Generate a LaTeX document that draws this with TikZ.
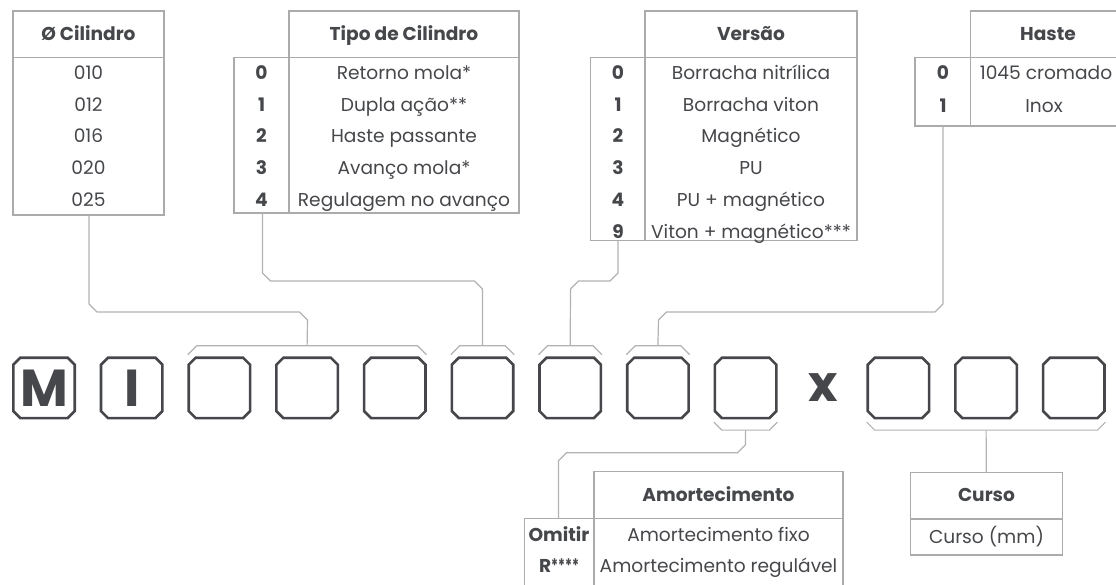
\documentclass[tikz,border=0pt]{standalone}
\usepackage{fontspec}
\usepackage{graphicx}
\setmainfont{Poppins}
\usetikzlibrary{calc}
\definecolor{ink}{HTML}{45474A}
\definecolor{rulegray}{HTML}{ABABAB}
\definecolor{conngray}{HTML}{B2B2B2}
\tikzset{
  tline/.style={draw=rulegray, line width=1.2pt},
  cline/.style={draw=conngray, line width=1.2pt},
  cell/.style={text=ink, font=\fontsize{18.6}{20}\selectfont, inner sep=0pt, anchor=base},
  head/.style={cell, font=\fontsize{18.6}{20}\selectfont\bfseries},
  slot/.style={minimum width=61pt, minimum height=60pt, inner sep=0pt, draw=none, text=ink,
               font=\fontsize{52}{52}\selectfont\bfseries},
  frame/.style={draw=ink, line width=2.6pt, line join=miter},
}
\begin{document}
\begin{tikzpicture}[x=1pt,y=-1pt]
\useasboundingbox (0,0) rectangle (1116,585);

% ---------- Table: diameter ----------
\draw[tline] (13,11) rectangle (164,215);
\draw[tline] (13,57.7) -- (164,57.7);
\node[head] (hCil) at (88.5,40.5) {Ø Cilindro};
\foreach \t [count=\i from 0] in {010,012,016,020,025}
  \node[cell] (cil\i) at (88.5,{79.5+31.75*\i}) {\t};
\coordinate (cilB) at (89,215);

% ---------- Table: tipo ----------
\draw[tline] (289,57.7) -- (289,11) -- (519,11) -- (519,213) -- (234,213) -- (234,57.7) -- (519,57.7);
\draw[tline] (289,57.7) -- (289,213);
\node[head] (hTipo) at (404,40.5) {Tipo de Cilindro};
\foreach \n/\t [count=\i from 0] in {0/Retorno mola*,1/Dupla ação**,2/Haste passante,3/Avanço mola*,4/Regulagem no avanço}{
  \node[head] (tipoN\i) at (261.5,{79.5+31.75*\i}) {\n};
  \node[cell] (tipoT\i) at (404,{79.5+31.75*\i}) {\t};
}
\coordinate (tipoB) at (262.5,213);

% ---------- Table: versao ----------
\draw[tline] (645,57.7) -- (645,11) -- (857,11) -- (857,240.7) -- (590.7,240.7) -- (590.7,57.7) -- (857,57.7);
\draw[tline] (645,57.7) -- (645,240.7);
\node[head] (hVer) at (751,40.5) {Versão};
\foreach \n/\t [count=\i from 0] in {0/Borracha nitrílica,1/Borracha viton,2/Magnético,3/PU,4/PU + magnético,9/Viton + magnético***}{
  \node[head] (verN\i) at (618,{79.5+31.75*\i}) {\n};
  \node[cell] (verT\i) at (751,{79.5+31.75*\i}) {\t};
}
\coordinate (verB) at (618,240.7);

% ---------- Table: haste ----------
\draw[tline] (970.7,57.7) -- (970.7,11) -- (1125,11);
\draw[tline] (1125,126) -- (915,126) -- (915,57.7) -- (1125,57.7);
\draw[tline] (970.7,57.7) -- (970.7,126);
\node[head] (hHas) at (1048,40.5) {Haste};
\node[head] (hasN0) at (943,79.5) {0};
\node[cell] (hasT0) at (1046,79.5) {1045 cromado};
\node[head] (hasN1) at (943,112.5) {1};
\node[cell] (hasT1) at (1044,112.5) {Inox};
\coordinate (hasB) at (943,126);

% ---------- Code slots ----------
\node[slot] (s0) at ({12.3+31.7},387.9) {M};
\node[slot] (s1) at ({12.3+87.7+31.7},387.9) {I};
\foreach \i in {2,...,8}
  \node[slot] (s\i) at ({12.3+87.7*\i+31.7},387.9) {};
\node[text=ink, font=\fontsize{50}{50}\selectfont\bfseries, inner sep=0pt] (xm) at (822.8,388) {x};
\node[slot] (c0) at ({866.7+31.7},387.9) {};
\node[slot] (c1) at ({954.4+31.7},387.9) {};
\node[slot] (c2) at ({1042.1+31.7},387.9) {};
\foreach \n in {s0,s1,s2,s3,s4,s5,s6,s7,s8,c0,c1,c2}
  \draw[frame] ($(\n.north west)+(7,0)$) -- ($(\n.north east)+(-7,0)$) -- ($(\n.north east)+(0,7)$)
    -- ($(\n.south east)+(0,-7)$) -- ($(\n.south east)+(-7,0)$) -- ($(\n.south west)+(7,0)$)
    -- ($(\n.south west)+(0,-7)$) -- ($(\n.north west)+(0,7)$) -- cycle;

% ---------- Brackets ----------
\foreach \a/\b/\k in {s2/s4/k1,s5/s5/k2,s6/s6/k3,s7/s7/k4}{
  \draw[cline] ($(\a.north west)+(-1,-3)$) -- ++(9,-9) -- ($(\b.north east)+(-8,-12)$) -- ++(9,9);
  \coordinate (\k) at ($(\a.north west)!0.5!(\b.north east)+(0,-12)$);
}
\foreach \a/\b/\k in {s8/s8/k5,c0/c2/k6}{
  \draw[cline] ($(\a.south west)+(-1,4)$) -- ++(8,8) -- ($(\b.south east)+(-7,12)$) -- ++(8,-8);
  \coordinate (\k) at ($(\a.south west)!0.5!(\b.south east)+(0,12)$);
}

% ---------- Table: amortecimento ----------
\draw[tline] (594,518.7) -- (594,471.7) -- (843,471.7) -- (843,595);
\draw[tline] (524.3,595) -- (524.3,518.7) -- (843,518.7);
\draw[tline] (594,518.7) -- (594,595);
\node[head] (hAm) at (718.5,501.5) {Amortecimento};
\node[head] (amN0) at (559,541) {Omitir};
\node[cell] (amT0) at (718.5,541) {Amortecimento fixo};
\node[head] (amN1) at (559,572.5) {R\scalebox{0.7}[1]{****}};
\node[cell] (amT1) at (718.5,572.5) {Amortecimento regulável};
\coordinate (amB) at (558.5,518.7);

% ---------- Table: curso ----------
\draw[tline] (910.7,472.3) rectangle (1062.3,555);
\draw[tline] (910.7,519) -- (1062.3,519);
\node[head] (hCur) at (986.5,501.5) {Curso};
\node[cell] (curT) at (986.5,543.8) {Curso (mm)};
\coordinate (curB) at (986.3,472.3);

% ---------- Connectors ----------
\draw[cline] (cilB) -- (89,304) -- (97,312) -- (299.5,312) -- (307.5,320) -- (k1);
\draw[cline] (tipoB) -- (262.5,273) -- (270.5,281) -- (474.5,281) -- (482.5,289) -- (k2);
\draw[cline] (verB) -- (618,273) -- (610,281) -- (578.5,281) -- (570.5,289) -- (k3);
\draw[cline] (hasB) -- (943,304) -- (935,312) -- (666.5,312) -- (658.5,320) -- (k4);
\draw[cline] (k5) -- (745.5,444.7) -- (737.5,452.7) -- (566.5,452.7) -- (558.5,460.7) -- (amB);
\draw[cline] (k6) -- (curB);
\end{tikzpicture}
\end{document}
